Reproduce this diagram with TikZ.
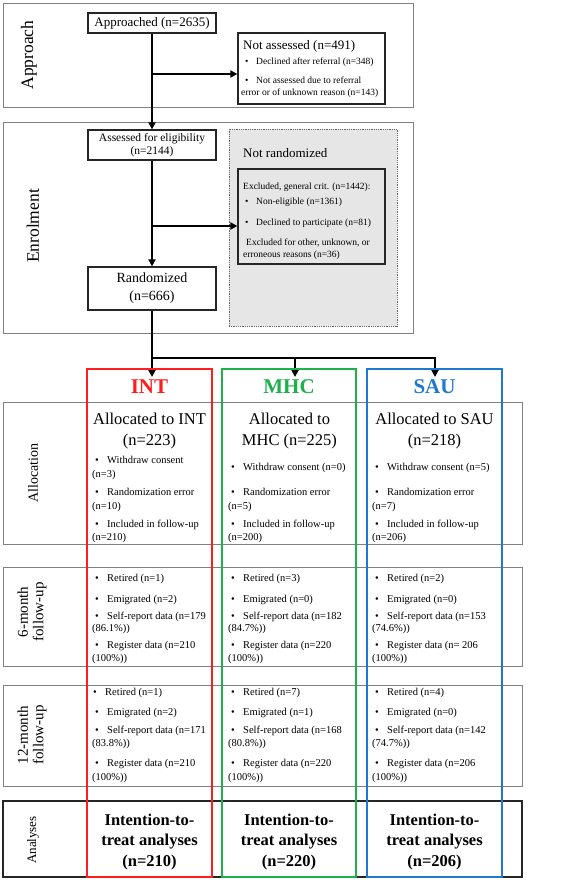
\documentclass[tikz,border=0pt]{standalone}
\usepackage{fontspec}
\setmainfont{Liberation Serif}
\usetikzlibrary{arrows.meta}
\definecolor{intred}{HTML}{FF1E1E}
\definecolor{mhcgreen}{HTML}{1DB04B}
\definecolor{saublue}{HTML}{1F78D1}
\definecolor{rowgray}{HTML}{808080}
\definecolor{boxfill}{HTML}{E6E6E6}
\newcommand\bul[1]{\makebox[#1][l]{\textbullet}}
\begin{document}
\begin{tikzpicture}[x=1pt,y=-1pt,
  rowbox/.style={draw=rowgray, line width=0.9pt, inner sep=0pt},
  anabox/.style={draw=black!85, line width=1.6pt, inner sep=0pt},
  flowbox/.style={draw=black!85, line width=1.2pt, fill=white, inner sep=0pt, align=center},
  arr/.style={line width=2.4pt, -{Triangle[length=7pt,width=7pt]}},
  trunk/.style={line width=2.4pt},
  lab/.style={rotate=90, align=center, inner sep=0pt},
  colbox/.style={line width=1.6pt, inner sep=0pt},
  ct/.style={anchor=base west, inner sep=0pt, font=\fontsize{10.5}{12}\selectfont},
  st/.style={anchor=base west, inner sep=0pt, font=\fontsize{9.5}{11}\selectfont},
  hd/.style={inner sep=0pt, font=\fontsize{21}{24}\selectfont\bfseries},
  alloc/.style={inner sep=0pt, align=center, font=\fontsize{16.5}{21}\selectfont},
  itt/.style={inner sep=0pt, align=center, font=\fontsize{16.5}{20.5}\selectfont\bfseries},
]
\useasboundingbox (0,0) rectangle (560,880);
% ---------- row frames ----------
\node[rowbox, minimum width=410pt, minimum height=104pt] (approachrow) at (208,55) {};
\node[rowbox, minimum width=410pt, minimum height=211pt] (enrolrow) at (208,227.5) {};
\node[rowbox, minimum width=519pt, minimum height=142pt] (allocrow) at (262.5,473) {};
\node[rowbox, minimum width=519pt, minimum height=99pt] (sixrow) at (262.5,616.5) {};
\node[rowbox, minimum width=519pt, minimum height=101pt] (twelverow) at (262.5,735.5) {};
\node[anabox, minimum width=519pt, minimum height=76pt] (anarow) at (262.5,839) {};
% row labels
\node[lab, font=\fontsize{17.5}{20}\selectfont] (lapproach) at (29,55) {Approach};
\node[lab, font=\fontsize{17.5}{20}\selectfont] (lenrol) at (33,226) {Enrolment};
\node[lab, font=\fontsize{14}{16}\selectfont] (lalloc) at (33,473) {Allocation};
\node[lab, font=\fontsize{15}{15.5}\selectfont] (lsix) at (32,612) {6-month\\follow-up};
\node[lab, font=\fontsize{15}{15.5}\selectfont] (ltwelve) at (32,735) {12-month\\follow-up};
\node[lab, font=\fontsize{13}{15}\selectfont] (lana) at (33,840) {Analyses};
% ---------- flow ----------
\node[draw=black!60, densely dotted, line width=0.8pt, fill=boxfill, minimum width=168pt, minimum height=197pt, inner sep=0pt] (notrand) at (313,227.5) {};
\node[flowbox, fill=boxfill, minimum width=147pt, minimum height=95pt] (excluded) at (311.5,216.5) {};
\node[flowbox, minimum width=128pt, minimum height=20pt, font=\fontsize{13}{15}\selectfont] (approached) at (152,23) {Approached (n=2635)};
\node[flowbox, minimum width=147pt, minimum height=71pt] (notassessed) at (311.5,68.5) {};
\node[flowbox, minimum width=128pt, minimum height=30pt, font=\fontsize{11.5}{12.5}\selectfont] (assessed) at (152,145) {Assessed for eligibility\\(n=2144)};
\node[flowbox, minimum width=128pt, minimum height=43pt, font=\fontsize{14}{18}\selectfont] (randomized) at (152,288.5) {Randomized\\(n=666)};

\node[anchor=base west, inner sep=0pt, font=\fontsize{13}{15}\selectfont] (nahead) at (243,49.5) {Not assessed (n=491)};
\node[st] (na1) at (245,64.5) {\bul{11pt}Declined after referral (n=348)};
\node[st] (na2) at (245,83.5) {\bul{11pt}Not assessed due to referral};
\node[st] (na3) at (241,95.5) {error or of unknown reason (n=143)};

\node[anchor=base west, inner sep=0pt, font=\fontsize{13}{15}\selectfont] (nrhead) at (243,157.5) {Not randomized};
\node[st] (ex0) at (243,189.5) {Excluded, general crit. (n=1442):};
\node[st] (ex1) at (245,204.5) {\bul{11pt}Non-eligible (n=1361)};
\node[st] (ex2) at (245,225.5) {\bul{11pt}Declined to participate (n=81)};
\node[st] (ex3) at (246,245.5) {Excluded for other, unknown, or};
\node[st] (ex4) at (243,257.5) {erroneous reasons (n=36)};

\coordinate (b1) at (152,74);
\coordinate (b2) at (152,226);
\draw[arr] (approached.south) -- (assessed.north);
\draw[arr] (b1) -- (b1 -| notassessed.west);
\draw[arr] (assessed.south) -- (randomized.north);
\draw[arr] (b2) -- (b2 -| excluded.west);
\coordinate (split) at (152,358);
\coordinate (splitR) at (435,358);
\coordinate (mhctop) at (295,358);
\coordinate (intin) at (152,377);
\coordinate (mhcin) at (295,377);
\coordinate (sauin) at (435,377);
\draw[trunk] (randomized.south) -- (split);
\draw[trunk] ([xshift=-1.2pt]split) -- ([xshift=1.2pt]splitR);
\draw[arr] (split) -- (intin);
\draw[arr] (mhctop) -- (mhcin);
\draw[arr] (splitR) -- (sauin);
% ---------- columns ----------
\node[colbox, draw=intred, minimum width=125pt, minimum height=508pt] (intcol) at (149.5,623) {};
\node[colbox, draw=mhcgreen, minimum width=134pt, minimum height=508pt] (mhccol) at (289,623) {};
\node[colbox, draw=saublue, minimum width=135pt, minimum height=508pt] (saucol) at (434.5,623) {};

\node[hd, text=intred] (inthd) at (149.5,387) {INT};
\node[hd, text=mhcgreen] (mhchd) at (289,387) {MHC};
\node[hd, text=saublue] (sauhd) at (434.5,387) {SAU};

\node[alloc] (intal) at (149.5,431) {Allocated to INT\\(n=223)};
\node[alloc] (mhcal) at (289.5,431) {Allocated to\\MHC (n=225)};
\node[alloc] (saual) at (434.5,431) {Allocated to SAU\\(n=218)};

% INT allocation
\node[ct] (ia1) at (95,463.5) {\bul{12pt}Withdraw consent};
\node[ct] (ia2) at (92,477) {(n=3)};
\node[ct] (ia3) at (95,495) {\bul{12pt}Randomization error};
\node[ct] (ia4) at (92,509) {(n=10)};
\node[ct] (ia5) at (95,527) {\bul{12pt}Included in follow-up};
\node[ct] (ia6) at (92,540) {(n=210)};
% MHC allocation
\node[ct] (ma1) at (231,470.5) {\bul{12pt}Withdraw consent (n=0)};
\node[ct] (ma3) at (231,495) {\bul{12pt}Randomization error};
\node[ct] (ma4) at (228,509) {(n=5)};
\node[ct] (ma5) at (231,527) {\bul{12pt}Included in follow-up};
\node[ct] (ma6) at (228,540) {(n=200)};
% SAU allocation
\node[ct] (sa1) at (375,470.5) {\bul{12pt}Withdraw consent (n=5)};
\node[ct] (sa3) at (375,495) {\bul{12pt}Randomization error};
\node[ct] (sa4) at (372,509) {(n=7)};
\node[ct] (sa5) at (375,527) {\bul{12pt}Included in follow-up};
\node[ct] (sa6) at (372,540) {(n=206)};

% 6-month
\node[ct] (i61) at (95,581.8) {\bul{12pt}Retired (n=1)};
\node[ct] (i62) at (95,602.8) {\bul{12pt}Emigrated (n=2)};
\node[ct] (i63) at (95,619.2) {\bul{12pt}Self-report data (n=179};
\node[ct] (i64) at (92,631.8) {(86.1\%))};
\node[ct] (i65) at (95,648.5) {\bul{12pt}Register data (n=210};
\node[ct] (i66) at (92,661.8) {(100\%))};
\node[ct] (m61) at (231,581.8) {\bul{12pt}Retired (n=3)};
\node[ct] (m62) at (231,602.8) {\bul{12pt}Emigrated (n=0)};
\node[ct] (m63) at (231,619.2) {\bul{12pt}Self-report data (n=182};
\node[ct] (m64) at (228,631.8) {(84.7\%))};
\node[ct] (m65) at (231,648.5) {\bul{12pt}Register data (n=220};
\node[ct] (m66) at (228,661.8) {(100\%))};
\node[ct] (s61) at (375,581.8) {\bul{12pt}Retired (n=2)};
\node[ct] (s62) at (375,602.8) {\bul{12pt}Emigrated (n=0)};
\node[ct] (s63) at (375,619.2) {\bul{12pt}Self-report data (n=153};
\node[ct] (s64) at (372,631.8) {(74.6\%))};
\node[ct] (s65) at (375,648.5) {\bul{12pt}Register data (n= 206};
\node[ct] (s66) at (372,661.8) {(100\%))};

% 12-month
\node[ct] (i121) at (93,695.2) {\bul{12pt}Retired (n=1)};
\node[ct] (i122) at (95,715.8) {\bul{12pt}Emigrated (n=2)};
\node[ct] (i123) at (95,733.5) {\bul{12pt}Self-report data (n=171};
\node[ct] (i124) at (92,746.8) {(83.8\%))};
\node[ct] (i125) at (95,766.8) {\bul{12pt}Register data (n=210};
\node[ct] (i126) at (92,780.2) {(100\%))};
\node[ct] (m121) at (231,695.2) {\bul{12pt}Retired (n=7)};
\node[ct] (m122) at (231,715.8) {\bul{12pt}Emigrated (n=1)};
\node[ct] (m123) at (231,733.5) {\bul{12pt}Self-report data (n=168};
\node[ct] (m124) at (228,746.8) {(80.8\%))};
\node[ct] (m125) at (231,766.8) {\bul{12pt}Register data (n=220};
\node[ct] (m126) at (228,780.2) {(100\%))};
\node[ct] (s121) at (375,695.2) {\bul{12pt}Retired (n=4)};
\node[ct] (s122) at (375,715.8) {\bul{12pt}Emigrated (n=0)};
\node[ct] (s123) at (375,733.5) {\bul{12pt}Self-report data (n=142};
\node[ct] (s124) at (372,746.8) {(74.7\%))};
\node[ct] (s125) at (375,766.8) {\bul{12pt}Register data (n=206};
\node[ct] (s126) at (372,780.2) {(100\%))};

% analyses
\node[itt] (intana) at (149.5,842) {Intention-to-\\treat analyses\\(n=210)};
\node[itt] (mhcana) at (289,842) {Intention-to-\\treat analyses\\(n=220)};
\node[itt] (sauana) at (434.5,842) {Intention-to-\\treat analyses\\(n=206)};
\end{tikzpicture}
\end{document}
